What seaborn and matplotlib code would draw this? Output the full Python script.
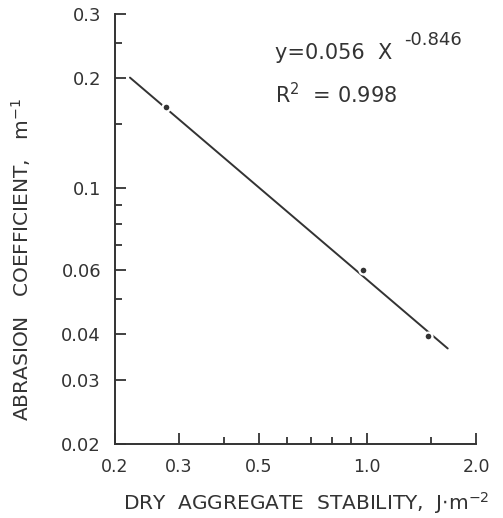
import matplotlib
matplotlib.use("Agg")
import matplotlib.pyplot as plt
import matplotlib.ticker as mticker
import seaborn as sns
import pandas as pd

# ---- data ----
fit_x = [0.22, 1.67]
fit_y = [0.201, 0.0365]
obs_x = [0.277, 0.97, 1.47]
obs_y = [0.167, 0.060, 0.0395]

x_major = [0.2, 0.3, 0.5, 1.0, 2.0]
x_major_labels = ["0.2", "0.3", "0.5", "1.0", "2.0"]
x_minor = [0.4, 0.6, 0.7, 0.8, 0.9, 1.5]
y_major = [0.02, 0.03, 0.04, 0.06, 0.1, 0.2, 0.3]
y_major_labels = ["0.02", "0.03", "0.04", "0.06", "0.1", "0.2", "0.3"]
y_minor = [0.05, 0.07, 0.08, 0.09, 0.15, 0.25]

eq_text = "y=0.056  X"
eq_exp = "-0.846"
r2_text = "R$^{2}$  = 0.998"
xlabel = "DRY  AGGREGATE  STABILITY,  J$\\cdot$m$^{-2}$"
ylabel = "ABRASION   COEFFICIENT,   m$^{-1}$"

sns.set_style("ticks")
plt.rcParams["font.family"] = ["DejaVu Sans"]
plt.rcParams["mathtext.default"] = "regular"

ink = "#333333"

fig = plt.figure(figsize=(5.03, 5.18), dpi=100)
ax = fig.add_axes([115 / 503, 74 / 518, 361 / 503, 430 / 518])

fit_df = pd.DataFrame({"x": fit_x, "y": fit_y})
obs_df = pd.DataFrame({"x": obs_x, "y": obs_y})

sns.lineplot(data=fit_df, x="x", y="y", ax=ax, color=ink, linewidth=1.4)
sns.scatterplot(data=obs_df, x="x", y="y", ax=ax, color=ink, s=32,
                edgecolor="white", linewidth=1.6, zorder=3)

ax.set_xscale("log")
ax.set_yscale("log")
ax.set_xlim(0.2, 2.0)
ax.set_ylim(0.02, 0.3)

ax.xaxis.set_major_locator(mticker.FixedLocator(x_major))
ax.xaxis.set_major_formatter(mticker.FixedFormatter(x_major_labels))
ax.xaxis.set_minor_locator(mticker.FixedLocator(x_minor))
ax.xaxis.set_minor_formatter(mticker.NullFormatter())
ax.yaxis.set_major_locator(mticker.FixedLocator(y_major))
ax.yaxis.set_major_formatter(mticker.FixedFormatter(y_major_labels))
ax.yaxis.set_minor_locator(mticker.FixedLocator(y_minor))
ax.yaxis.set_minor_formatter(mticker.NullFormatter())

ax.tick_params(which="major", direction="in", length=8, width=1.3,
               color=ink, labelcolor=ink)
ax.tick_params(axis="x", which="major", pad=10, labelsize=12.5)
ax.tick_params(axis="y", which="major", pad=10, labelsize=13)
ax.tick_params(which="minor", direction="in", length=5, width=1.3, color=ink)

sns.despine(ax=ax)
for s in ["left", "bottom"]:
    ax.spines[s].set_color(ink)
    ax.spines[s].set_linewidth(1.4)

ax.set_xlabel(xlabel, fontsize=14.5, color=ink)
ax.set_ylabel(ylabel, fontsize=14.5, color=ink)
ax.xaxis.set_label_coords(0.529, -0.137)
ax.xaxis.label.set_va("center")
ax.yaxis.set_label_coords(-0.26, 0.428)
ax.yaxis.label.set_va("center")

ax.text(0.443, 0.895, eq_text, transform=ax.transAxes, fontsize=15,
        color=ink, ha="left", va="baseline")
ax.text(0.80, 0.928, eq_exp, transform=ax.transAxes, fontsize=13,
        color=ink, ha="left", va="baseline")
ax.text(0.443, 0.793, r2_text, transform=ax.transAxes, fontsize=15,
        color=ink, ha="left", va="baseline")

fig.savefig("out.png", dpi=100, facecolor="white")
